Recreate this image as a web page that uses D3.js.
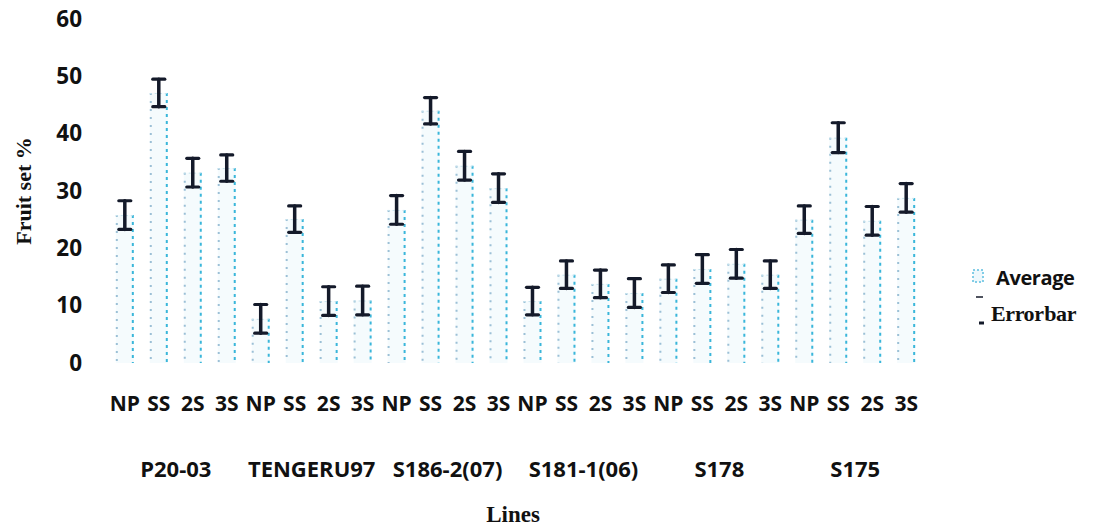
<!DOCTYPE html>
<html>
<head>
<meta charset="utf-8">
<script src="https://cdn.jsdelivr.net/npm/d3@7"></script>
<style>
  html, body { margin: 0; padding: 0; background: #fff; }
  svg text { fill: #111; }
</style>
</head>
<body>
<svg id="chart" width="1097" height="528"></svg>
<script>
// ! DATA
const lines = ["P20-03", "TENGERU97", "S186-2(07)", "S181-1(06)", "S178", "S175"];
const treatments = ["NP", "SS", "2S", "3S"];
const average = [
  25.8, 47.1, 33.2, 34.0,
  7.7, 25.1, 10.8, 10.9,
  26.7, 44.0, 34.4, 30.5,
  10.8, 15.4, 13.8, 12.2,
  14.7, 16.4, 17.3, 15.4,
  25.0, 39.3, 24.8, 28.8
];
const errorbar = [
  2.5, 2.4, 2.5, 2.3,
  2.5, 2.3, 2.5, 2.5,
  2.5, 2.3, 2.5, 2.5,
  2.4, 2.4, 2.4, 2.5,
  2.4, 2.5, 2.5, 2.4,
  2.4, 2.6, 2.5, 2.5
];
const yTicks = [0, 10, 20, 30, 40, 50, 60];

// ! BUILD ROWS
const rows = [];
lines.forEach((l, i) => treatments.forEach((t, j) => {
  const k = i * 4 + j;
  rows.push({ key: l + "|" + t, line: l, treat: t, avg: average[k], err: errorbar[k] });
}));

const svg = d3.select("#chart");
const m = { left: 108, right: 1097 - 923, top: 19, bottom: 528 - 363 };

const x = d3.scaleBand()
  .domain(rows.map(d => d.key))
  .range([m.left, 1097 - m.right])
  .paddingInner(0.47)
  .paddingOuter(0.23);

const y = d3.scaleLinear().domain([0, 60]).range([363, m.top]);

const sans = "'Open Sans', 'DejaVu Sans', sans-serif";
const serif = "'Liberation Serif', 'DejaVu Serif', serif";

// ! Y AXIS (labels only)
const yAxis = svg.append("g")
  .attr("transform", `translate(82,0)`)
  .call(d3.axisLeft(y).tickValues(yTicks).tickSize(0).tickPadding(0));
yAxis.select(".domain").remove();
yAxis.selectAll("text")
  .attr("font-family", sans).attr("font-weight", 700).attr("font-size", 22.5)
  .attr("fill", "#111");

// ! BARS
const bars = svg.append("g");
const bw = x.bandwidth();
rows.forEach(d => {
  const x0 = x(d.key), y0 = y(d.avg), yb = y(0);
  bars.append("rect")
    .attr("x", x0).attr("y", y0).attr("width", bw).attr("height", yb - y0)
    .attr("fill", "#f5fbfd");
  bars.append("line")
    .attr("x1", x0 + 1).attr("x2", x0 + 1).attr("y1", y0).attr("y2", yb)
    .attr("stroke", "#9cc0d6").attr("stroke-width", 2).attr("stroke-dasharray", "2,6");
  bars.append("line")
    .attr("x1", x0 + bw - 1).attr("x2", x0 + bw - 1).attr("y1", y0).attr("y2", yb)
    .attr("stroke", "#3ab6da").attr("stroke-width", 2).attr("stroke-dasharray", "3,4");
  bars.append("line")
    .attr("x1", x0).attr("x2", x0 + bw).attr("y1", y0 + 0.5).attr("y2", y0 + 0.5)
    .attr("stroke", "#c6e3ee").attr("stroke-width", 1).attr("stroke-dasharray", "2,3");
});

// ! ERROR BARS
const eb = svg.append("g").attr("stroke", "#141a2a").attr("stroke-linecap", "round");
rows.forEach(d => {
  const cx = x(d.key) + bw / 2;
  const top = y(d.avg + d.err), bot = y(d.avg - d.err);
  eb.append("line").attr("x1", cx).attr("x2", cx).attr("y1", top).attr("y2", bot).attr("stroke-width", 3.5);
  eb.append("line").attr("x1", cx - 6).attr("x2", cx + 6).attr("y1", top).attr("y2", top).attr("stroke-width", 3.2);
  eb.append("line").attr("x1", cx - 6).attr("x2", cx + 6).attr("y1", bot).attr("y2", bot).attr("stroke-width", 3.2);
});

// ! X AXIS: treatment labels
const xAxis = svg.append("g")
  .attr("transform", `translate(0,396)`)
  .call(d3.axisBottom(x).tickSize(0).tickPadding(0).tickFormat(k => k.split("|")[1]));
xAxis.select(".domain").remove();
xAxis.selectAll("text")
  .attr("font-family", sans).attr("font-weight", 700).attr("font-size", 21)
  .attr("fill", "#111");

// ! GROUP LABELS
lines.forEach(l => {
  const first = x(l + "|" + treatments[0]);
  const last = x(l + "|" + treatments[3]) + bw;
  svg.append("text")
    .attr("x", (first + last) / 2).attr("y", 477)
    .attr("text-anchor", "middle")
    .attr("font-family", sans).attr("font-weight", 700).attr("font-size", 22)
    .text(l);
});

// ! AXIS TITLES
svg.append("text")
  .attr("x", 513).attr("y", 522).attr("text-anchor", "middle")
  .attr("font-family", serif).attr("font-weight", 700).attr("font-size", 23)
  .text("Lines");

svg.append("text")
  .attr("transform", "translate(31,191) rotate(-90)")
  .attr("text-anchor", "middle")
  .attr("font-family", serif).attr("font-weight", 700).attr("font-size", 22)
  .text("Fruit set %");

// ! LEGEND
const lg = svg.append("g");
lg.append("rect").attr("x", 973).attr("y", 270).attr("width", 10).attr("height", 12)
  .attr("fill", "#eef8fc").attr("stroke", "#5dbfe0").attr("stroke-width", 1.5).attr("stroke-dasharray", "2,2");
lg.append("text").attr("x", 996).attr("y", 285)
  .attr("font-family", sans).attr("font-weight", 700).attr("font-size", 20)
  .attr("letter-spacing", -0.4)
  .text("Average");
lg.append("line").attr("x1", 976).attr("x2", 983).attr("y1", 297).attr("y2", 297)
  .attr("stroke", "#141a2a").attr("stroke-width", 1.5);
lg.append("line").attr("x1", 979).attr("x2", 984).attr("y1", 323).attr("y2", 323)
  .attr("stroke", "#141a2a").attr("stroke-width", 3);
lg.append("text").attr("x", 991).attr("y", 321)
  .attr("font-family", serif).attr("font-weight", 700).attr("font-size", 22)
  .attr("letter-spacing", -0.4).attr("word-spacing", -4)
  .text("Error bar");
</script>
</body>
</html>
